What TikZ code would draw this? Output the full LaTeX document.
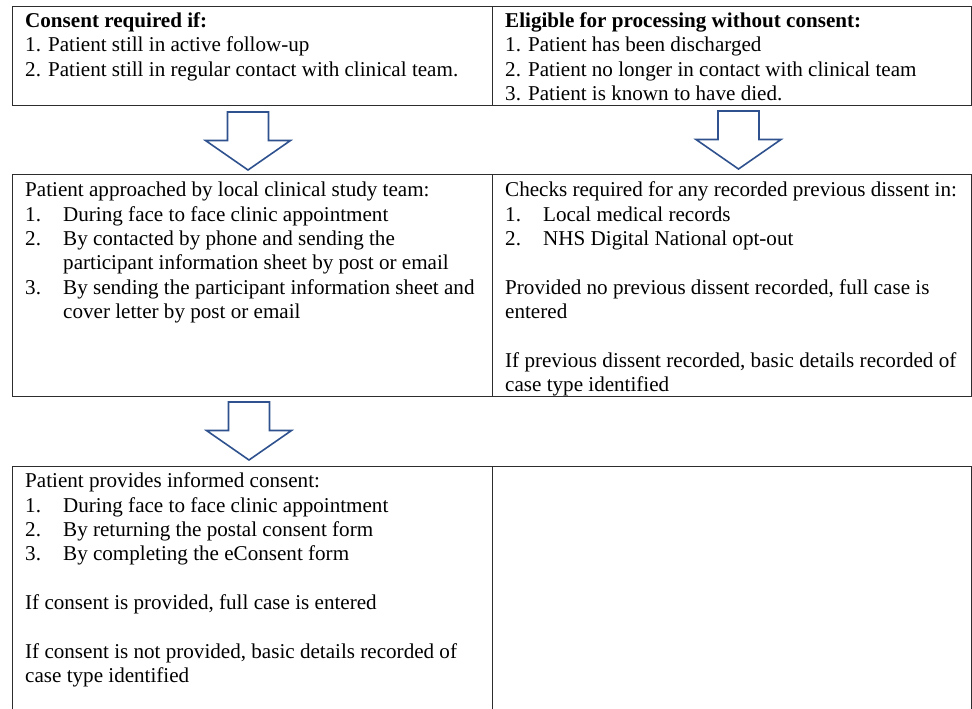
\documentclass[tikz,border=0pt]{standalone}
\usepackage{fontspec}
\setmainfont{Liberation Serif}
\definecolor{arrowblue}{RGB}{47,82,143}
\definecolor{boxline}{RGB}{45,45,45}
\newcommand{\itm}[1]{\makebox[38pt][l]{#1}}
\newcommand{\cnt}{\hspace*{38pt}}
\newcommand{\topstrut}{\rule{0pt}{16pt}}
\begin{document}
\begin{tikzpicture}[x=1pt,y=-1pt,
  cellbox/.style={draw=boxline, line width=1.3pt, anchor=north west, inner sep=0pt, minimum height=#1},
  leftcell/.style={cellbox=#1, minimum width=480pt},
  rightcell/.style={cellbox=#1, minimum width=479pt},
  txt/.style={anchor=north west, align=left, inner sep=0pt, font=\fontsize{21.1}{24.3}\selectfont},
  downarrow/.style={draw=arrowblue, line width=1.6pt, fill=white, line join=miter},
  dnarrow/.pic={\draw[downarrow] (-20.5,0) -- (20.5,0) -- (20.5,28.5) -- (42.5,28.5) -- (0,58) -- (-42.5,28.5) -- (-20.5,28.5) -- cycle;}]
\useasboundingbox (0,0) rectangle (972,709);
\fill[white] (0,0) rectangle (972,709);
\begin{scope}
\clip (0,0) rectangle (972,709);
\node[leftcell=99pt] (c11) at (12,6) {};
\node[rightcell=99pt] (c12) at (492,6) {};
\node[leftcell=222pt] (c21) at (12,174) {};
\node[rightcell=222pt] (c22) at (492,174) {};
\node[leftcell=270pt] (c31) at (12,466) {};
\node[rightcell=270pt] (c32) at (492,466) {};
\end{scope}

\pic at (248,112) {dnarrow};
\pic at (738.5,111) {dnarrow};
\pic at (249,402) {dnarrow};

% first baselines: 27.3, 196.7, 487.7 (node top = baseline - 16)
\node[txt] (t11) at (25,11.3) {\topstrut\textbf{Consent required if:}\\
1. Patient still in active follow-up\\
2. Patient still in regular contact with clinical team.};

\node[txt] (t12) at (505,11.3) {\topstrut\textbf{Eligible for processing without consent:}\\
1. Patient has been discharged\\
2. Patient no longer in contact with clinical team\\
3. Patient is known to have died.};

\node[txt] (t21) at (25,180.7) {\topstrut Patient approached by local clinical study team:\\
\itm{1.}During face to face clinic appointment\\
\itm{2.}By contacted by phone and sending the\\
\cnt participant information sheet by post or email\\
\itm{3.}By sending the participant information sheet and\\
\cnt cover letter by post or email};

\node[txt] (t22) at (505,180.7) {\topstrut Checks required for any recorded previous dissent in:\\
\itm{1.}Local medical records\\
\itm{2.}NHS Digital National opt-out\\[24.3pt]
Provided no previous dissent recorded, full case is\\
entered\\[24.3pt]
If previous dissent recorded, basic details recorded of\\
case type identified};

\node[txt] (t31) at (25,471.7) {\topstrut Patient provides informed consent:\\
\itm{1.}During face to face clinic appointment\\
\itm{2.}By returning the postal consent form\\
\itm{3.}By completing the eConsent form\\[24.3pt]
If consent is provided, full case is entered\\[24.3pt]
If consent is not provided, basic details recorded of\\
case type identified};
\end{tikzpicture}
\end{document}
